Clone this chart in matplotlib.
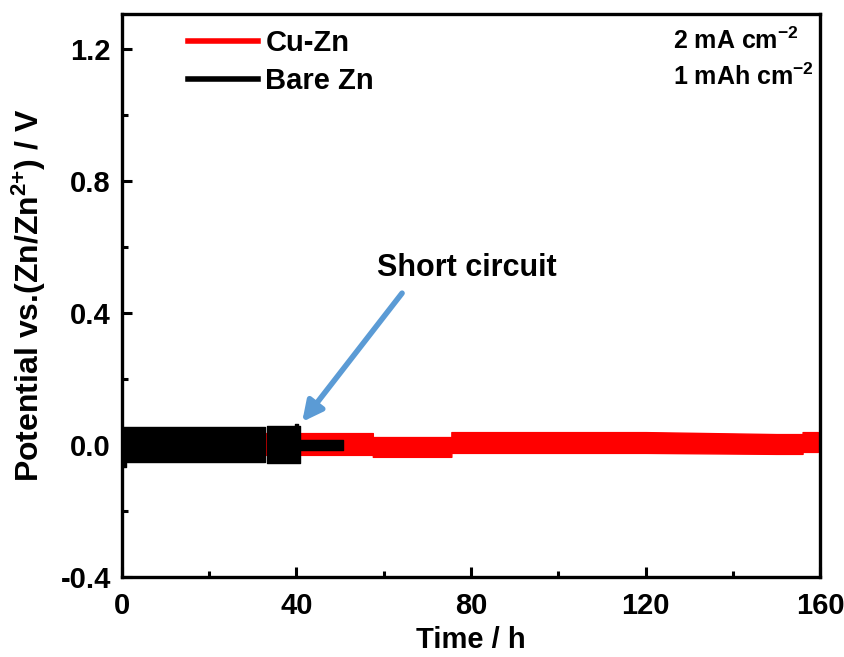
import numpy as np
import matplotlib
matplotlib.use("Agg")
import matplotlib.pyplot as plt
from matplotlib.lines import Line2D
from matplotlib.ticker import MultipleLocator

plt.rcParams['font.family'] = ['Liberation Sans', 'DejaVu Sans']
plt.rcParams['font.weight'] = 'bold'
plt.rcParams['mathtext.fontset'] = 'custom'
plt.rcParams['mathtext.rm'] = 'Liberation Sans:bold'
plt.rcParams['mathtext.bf'] = 'Liberation Sans:bold'
plt.rcParams['mathtext.default'] = 'bf'

# envelope of the voltage band (time in h, V)
cu_time = [0, 57.5, 57.5, 75.5, 75.5, 120, 150, 156, 156, 159.5]
cu_upper = [0.036, 0.036, 0.024, 0.024, 0.039, 0.039, 0.033, 0.033, 0.039, 0.039]
cu_lower = [-0.030, -0.030, -0.036, -0.036, -0.024, -0.024, -0.027, -0.027, -0.021, -0.021]

nan = np.nan
bare_time = [0, 1.0, 1.0, 32.8, 33.0, 33.2, 39.6, 39.6, 40.4, 40.4, 40.8, 40.8, 50.7]
bare_upper = [0.055, 0.055, 0.055, 0.055, nan, 0.058, 0.058, 0.064, 0.064, 0.058, 0.058, 0.015, 0.015]
bare_lower = [-0.067, -0.067, -0.052, -0.052, nan, -0.055, -0.055, -0.055, -0.055, -0.055, -0.055, -0.015, -0.015]

x_ticks = [0, 40, 80, 120, 160]
y_ticks = [-0.4, 0.0, 0.4, 0.8, 1.2]

fig = plt.figure(figsize=(8.44, 6.57), dpi=100)
ax = fig.add_axes([0.1445, 0.1218, 0.8271, 0.8569])

ax.fill_between(cu_time, cu_lower, cu_upper, color='#ff0000', lw=1, zorder=2)
ax.fill_between(np.array(bare_time), np.array(bare_lower), np.array(bare_upper),
                color='black', lw=1, zorder=3)

ax.set_xlim(0, 160)
ax.set_ylim(-0.4, 1.306)
ax.set_xticks(x_ticks)
ax.set_yticks(y_ticks)
ax.set_yticklabels(['-0.4', '0.0', '0.4', '0.8', '1.2'])
ax.xaxis.set_minor_locator(MultipleLocator(20))
ax.yaxis.set_minor_locator(MultipleLocator(0.2))
ax.tick_params(which='both', direction='in', top=False, right=False, width=2.2)
ax.tick_params(which='major', length=7, labelsize=21, pad=8)
ax.tick_params(axis='x', which='major', pad=11)
ax.tick_params(which='minor', length=4)
for s in ax.spines.values():
    s.set_linewidth(2.4)

ax.set_xlabel('Time / h', fontsize=21, fontweight='bold', labelpad=4)
ax.set_ylabel('Potential vs.(Zn/Zn$^{2{+}}$) / V', fontsize=23, fontweight='bold', labelpad=9)

handles = [Line2D([], [], color='#ff0000', lw=4), Line2D([], [], color='black', lw=4)]
ax.legend(handles, ['Cu-Zn', 'Bare Zn'], loc='upper left', frameon=False,
          fontsize=21, handlelength=2.4, handletextpad=0.25, labelspacing=0.35,
          bbox_to_anchor=(0.057, 1.02))

ax.text(0.79, 0.953, '2 mA cm$^{\\mathregular{-2}}$', transform=ax.transAxes, fontsize=18,
        ha='left', va='center')
ax.text(0.79, 0.888, '1 mAh cm$^{\\mathregular{-2}}$', transform=ax.transAxes, fontsize=18,
        ha='left', va='center')

ax.annotate('', xy=(41.3, 0.07), xytext=(64.2, 0.46),
            arrowprops=dict(arrowstyle='-|>', color='#5b9bd5', lw=4,
                            mutation_scale=30, shrinkA=0, shrinkB=0))
ax.text(79, 0.536, 'Short circuit', fontsize=22, ha='center', va='center')

fig.savefig('out.png', dpi=100)
